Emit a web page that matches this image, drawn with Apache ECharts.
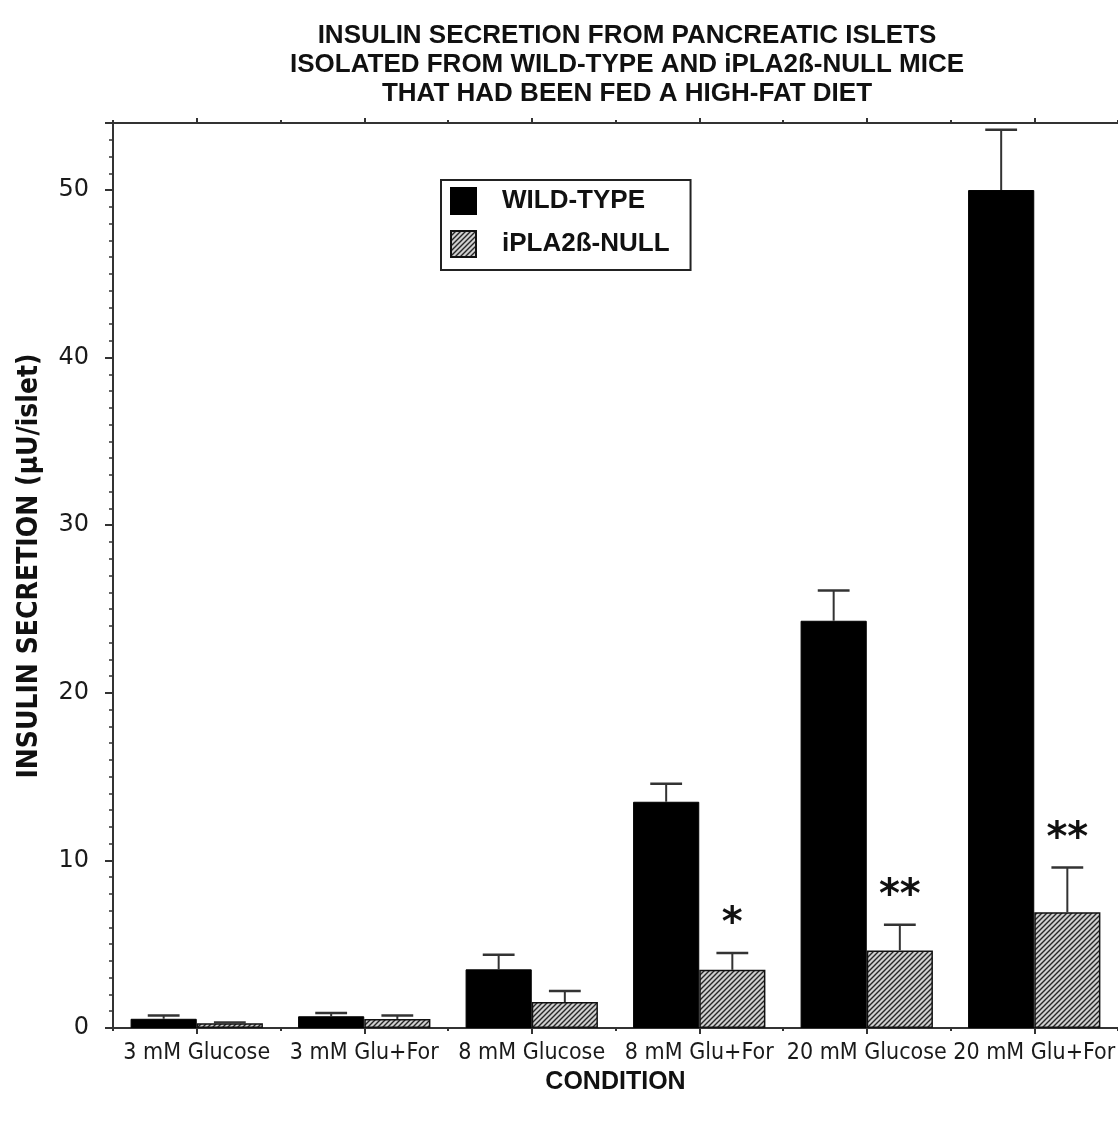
<!DOCTYPE html>
<html>
<head>
<meta charset="utf-8">
<script src="https://cdn.jsdelivr.net/npm/echarts@6/dist/echarts.min.js"></script>
<style>
html,body{margin:0;padding:0;background:#fff;}
#chart{width:1118px;height:1121px;}
</style>
</head>
<body>
<div id="chart"></div>
<script>
// ---- data ----
const categories = ['3 mM Glucose', '3 mM Glu+For', '8 mM Glucose', '8 mM Glu+For', '20 mM Glucose', '20 mM Glu+For'];
const wildType = [0.55, 0.70, 3.5, 13.5, 24.3, 50.0];
const wildTypeErr = [0.2, 0.2, 0.87, 1.07, 1.8, 3.6];
const nullMice = [0.28, 0.54, 1.55, 3.47, 4.63, 6.9];
const nullMiceErr = [0.05, 0.2, 0.66, 1.0, 1.53, 2.68];
const significance = ['', '', '', '*', '**', '**'];
const yTicks = [0, 10, 20, 30, 40, 50];
const yTitle = 'INSULIN SECRETION (µU/islet)';

// ---- hatch pattern ----
function hatch() {
  const s = 5;
  const c = document.createElement('canvas');
  c.width = s; c.height = s;
  const g = c.getContext('2d');
  g.fillStyle = '#cfcfcf';
  g.fillRect(0, 0, s, s);
  g.strokeStyle = '#262626';
  g.lineWidth = 1.4;
  g.beginPath();
  g.moveTo(-1, s + 1); g.lineTo(s + 1, -1);
  g.moveTo(-1, 1); g.lineTo(1, -1);
  g.moveTo(s - 1, s + 1); g.lineTo(s + 1, s - 1);
  g.stroke();
  return c;
}
const hatchFill = { image: hatch(), repeat: 'repeat' };

const BAR_FRAC = 0.395;
function errorRenderer(side, errs, marks) {
  return function (params, api) {
    const idx = api.value(0);
    const v = api.value(1);
    const e = errs[params.dataIndex];
    const catW = api.size([1, 0])[0];
    const off = side * catW * BAR_FRAC / 2;
    const base = api.coord([idx, v]);
    const top = api.coord([idx, v + e]);
    const x = base[0] + off;
    const capHalf = catW * 0.095;
    const children = [
      { type: 'line', shape: { x1: x, y1: base[1], x2: x, y2: top[1] }, style: { stroke: '#333', lineWidth: 2 } },
      { type: 'line', shape: { x1: x - capHalf, y1: top[1], x2: x + capHalf, y2: top[1] }, style: { stroke: '#333', lineWidth: 2.5 } }
    ];
    const m = marks ? marks[params.dataIndex] : '';
    if (m) {
      children.push({
        type: 'text',
        style: { x: x, y: top[1] - 28, text: m, fill: '#111', font: 'bold 40px "DejaVu Sans", sans-serif', textAlign: 'center', textVerticalAlign: 'middle' }
      });
    }
    return { type: 'group', children: children };
  };
}

const chart = echarts.init(document.getElementById('chart'), null, { renderer: 'canvas' });
const axisColor = '#333';
const option = {
  animation: false,
  backgroundColor: '#fff',
  title: {
    text: 'INSULIN SECRETION FROM PANCREATIC ISLETS\nISOLATED FROM WILD-TYPE AND iPLA2ß-NULL MICE\nTHAT HAD BEEN FED A HIGH-FAT DIET',
    left: 622, top: 16, textAlign: 'center',
    textStyle: { fontFamily: '"Liberation Sans", Arial, sans-serif', fontWeight: 'bold', fontSize: 26, lineHeight: 29, color: '#111' }
  },
  graphic: [
    {
      type: 'text', x: 30, y: 566, rotation: Math.PI / 2,
      style: { text: yTitle, fill: '#111', font: 'bold 28px "Liberation Sans Narrow", "DejaVu Sans Condensed", sans-serif', textAlign: 'center', textVerticalAlign: 'middle' }
    }
  ],
  legend: {
    data: ['WILD-TYPE', 'iPLA2ß-NULL'],
    orient: 'vertical', left: 441, top: 180,
    itemWidth: 25, itemHeight: 26, itemGap: 15,
    padding: [7, 21, 12, 9],
    borderColor: '#222', borderWidth: 2,
    icon: 'rect',
    textStyle: { fontFamily: '"Liberation Sans", Arial, sans-serif', fontWeight: 'bold', fontSize: 26, color: '#111', padding: [0, 0, 0, 21] },
    selectedMode: false
  },
  grid: { left: 113, right: -3, top: 123, bottom: 93, containLabel: false },
  xAxis: [
    {
      type: 'category', data: categories, position: 'bottom',
      axisLine: { show: true, lineStyle: { color: axisColor, width: 2 } },
      axisTick: { show: true, alignWithLabel: true, length: 6, inside: false, lineStyle: { color: axisColor, width: 2 } },
      axisLabel: { margin: 14, fontFamily: '"DejaVu Sans Condensed", "Liberation Sans Narrow", sans-serif', fontSize: 23, color: '#1a1a1a', interval: 0 },
      name: 'CONDITION', nameLocation: 'middle', nameGap: 42,
      nameTextStyle: { fontFamily: '"Liberation Sans", Arial, sans-serif', fontWeight: 'bold', fontSize: 25, color: '#111' }
    },
    {
      type: 'category', data: categories, position: 'bottom',
      axisLine: { show: false },
      axisTick: { show: true, length: 3, lineStyle: { color: axisColor, width: 2 } },
      axisLabel: { show: false }
    },
    {
      type: 'category', data: categories, position: 'top',
      axisLine: { show: true, lineStyle: { color: axisColor, width: 2 } },
      axisTick: { show: true, alignWithLabel: true, length: 5, lineStyle: { color: axisColor, width: 2 } },
      axisLabel: { show: false }
    },
    {
      type: 'category', data: categories, position: 'top',
      axisLine: { show: false },
      axisTick: { show: true, length: 3, lineStyle: { color: axisColor, width: 2 } },
      axisLabel: { show: false }
    }
  ],
  yAxis: {
    type: 'value', min: 0, max: 54, interval: 10,
    axisLine: { show: true, lineStyle: { color: axisColor, width: 2 } },
    axisTick: { show: true, length: 8, lineStyle: { color: axisColor, width: 2 } },
    minorTick: { show: true, splitNumber: 10, length: 4, lineStyle: { color: axisColor, width: 1.5 } },
    splitLine: { show: false },
    axisLabel: {
      margin: 24, fontFamily: '"DejaVu Sans", Verdana, sans-serif', fontSize: 24, color: '#1a1a1a',
      formatter: function (v) { return yTicks.indexOf(v) >= 0 ? String(v) : ''; }
    }
  },
  series: [
    {
      name: 'WILD-TYPE', type: 'bar', xAxisIndex: 0, data: wildType,
      barWidth: (BAR_FRAC * 100) + '%', barGap: '0%',
      itemStyle: { color: '#000', borderColor: '#000', borderWidth: 1 }
    },
    {
      name: 'iPLA2ß-NULL', type: 'bar', xAxisIndex: 0, data: nullMice,
      barWidth: (BAR_FRAC * 100) + '%', barGap: '0%',
      itemStyle: { color: hatchFill, borderColor: '#111', borderWidth: 1.5 }
    },
    {
      type: 'custom', xAxisIndex: 0, z: 5,
      renderItem: errorRenderer(-1, wildTypeErr, null),
      data: wildType.map((v, i) => [i, v]), encode: { x: 0, y: 1 }
    },
    {
      type: 'custom', xAxisIndex: 0, z: 5,
      renderItem: errorRenderer(1, nullMiceErr, significance),
      data: nullMice.map((v, i) => [i, v]), encode: { x: 0, y: 1 }
    }
  ]
};
chart.setOption(option);
</script>
</body>
</html>
